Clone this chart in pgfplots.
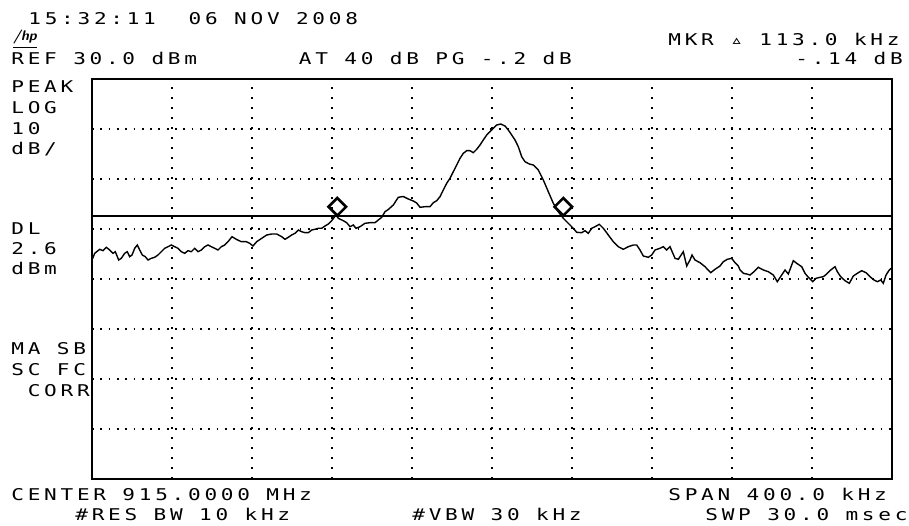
\documentclass[border=0pt]{standalone}
\usepackage{pgfplots}
\pgfplotsset{compat=1.18}
\usepackage{fontspec}
\newfontfamily\hpfont[FakeStretch=1.3,LetterSpace=23]{DejaVu Sans Mono}
\pgfplotstableread{
k d
-200 -6.2
-198.65 -4.86
-196.15 -4.06
-194.5 -4.34
-192.85 -3.66
-191.15 -4.2
-189.5 -4.86
-188.35 -4.54
-186.65 -6.2
-185.35 -5.86
-183.65 -4.86
-182.35 -4.54
-181.15 -5.54
-180 -5.2
-178.65 -3.86
-177.35 -3.2
-176.15 -4.2
-174.85 -5.2
-173.35 -5.54
-172 -6.2
-170.35 -5.86
-168.65 -5.66
-167 -5.2
-165.35 -4.54
-163.65 -3.86
-162 -3.54
-160.35 -3.2
-158.65 -3.54
-157 -3.86
-155.35 -4.54
-153.65 -4.86
-152 -4.34
-150.35 -4.54
-148.65 -3.86
-147 -4.54
-145.35 -4.2
-143.65 -3.54
-142 -3.2
-140.35 -3.54
-138.65 -3.86
-137 -4.2
-135.35 -3.54
-133.65 -3.2
-132 -2.54
-130 -1.54
-127.85 -2.06
-125.35 -2.54
-122.85 -2.54
-121.15 -2.86
-119.5 -3.4
-117.65 -2.54
-115.15 -1.86
-112.65 -1.2
-110.15 -1.0
-107.65 -1.0
-105.15 -1.54
-103.5 -2.06
-101.85 -1.66
-100.15 -1.2
-98.5 -0.86
-96.85 -0.2
-95.15 -0.54
-93.5 -0.74
-91.85 -0.74
-90.15 -0.2
-88.5 -0.06
-86.85 0.14
-85.15 0.14
-83.5 0.6
-81.85 1.0
-80.15 1.66
-78 2.8
-76.85 2.14
-74.35 1.66
-72.65 1.26
-71 0.46
-69.35 0.8
-68 0.14
-66 0.46
-63.5 1.14
-61 1.26
-58.5 1.26
-56.85 1.8
-55.15 2.34
-53.5 3.46
-51.85 3.9
-49.35 4.8
-46.85 6.34
-44.35 6.5
-41.85 6.0
-39.35 5.6
-37.65 5.2
-36 4.34
-33.5 4.46
-31 4.46
-29.35 5.26
-27.65 5.66
-26 6.46
-24.35 7.8
-22.65 9.14
-21 10.14
-19.35 11.46
-17.65 12.8
-16 14.14
-14.35 15.14
-12.65 15.66
-11 15.66
-9.35 15.26
-7.65 15.94
-6 16.8
-4.35 17.8
-2.65 18.8
-1 19.46
0.65 20.14
2.35 20.8
4.35 21.0
6.5 20.6
8.15 19.8
9.85 18.8
11.5 17.8
13.15 16.46
14.85 14.46
16.5 13.46
18.65 13.0
20.65 12.8
23.15 11.8
25.65 9.8
28.15 7.46
30.65 5.14
33.15 3.46
35.65 2.14
38.15 1.14
40.65 0.14
42.35 -0.66
44.85 -0.74
46.5 -0.34
48.15 -0.86
49.85 0.14
51.5 0.46
53.65 0.94
55.65 0.14
58.15 -1.2
60.65 -2.54
63.15 -3.54
65.65 -4.06
68.15 -3.54
70.65 -3.2
72.35 -3.2
74 -4.2
75.65 -5.4
78.15 -5.66
79.85 -5.2
81.5 -4.2
84 -3.86
85.65 -3.54
87.35 -4.2
89 -3.54
91.5 -5.86
93.15 -6.06
95.65 -4.54
97.35 -7.4
99 -6.2
100 -5.2
101.5 -6.2
104 -6.74
106.5 -7.54
109.35 -8.74
111.5 -8.06
114 -7.4
115.65 -6.54
117.65 -6.06
119.85 -5.86
121.5 -6.74
123.15 -7.4
124 -8.2
125.65 -8.86
127.35 -9.0
129 -9.2
131 -8.54
133.15 -7.66
135.65 -8.2
138.15 -8.54
140.65 -9.2
142.65 -10.54
144.85 -9.2
146.5 -8.2
148.15 -9.0
150.65 -6.34
152.35 -6.86
154.85 -7.54
156.5 -8.86
158.15 -9.66
160.35 -10.54
162 -9.86
164 -9.66
165.65 -9.54
167.35 -9.0
169.35 -8.2
171.5 -7.54
172.65 -8.54
174.35 -9.54
176.5 -10.34
178.65 -10.86
180.65 -9.4
183.15 -8.74
184.85 -8.34
187 -8.74
189 -9.54
191 -10.2
192.65 -10.54
194.35 -10.2
195.65 -10.86
197 -9.2
198.65 -8.2
199.5 -7.86
}\trace
\begin{document}
\begin{tikzpicture}
\path[use as bounding box] (0,0) rectangle (454.5pt,262.5pt);
\begin{axis}[
  at={(46pt,23pt)}, anchor=south west,
  scale only axis, width=400pt, height=200pt,
  xmin=-200, xmax=200, ymin=-50, ymax=30,
  xtick={-160,-120,...,160}, ytick={-40,-30,...,20},
  xticklabels={}, yticklabels={},
  major tick length=0pt,
  grid=major,
  major x grid style={black, line width=1pt, dash pattern=on 0.9pt off 4.1pt},
  major y grid style={black, line width=1pt, dash pattern=on 0.9pt off 3.25pt},
  axis line style={line width=1.3pt},
]
\addplot[black, line width=1.1pt] coordinates {(-200,2.6) (200,2.6)};
\addplot[black, line width=0.7pt] table[x=k, y=d] {\trace};
\addplot[only marks, mark=square, mark size=3.1pt,
  mark options={yshift=4.6pt, rotate=45, line width=1.3pt, black, fill=white}]
  coordinates {(-77.35,2.6) (35.65,2.6)};
\end{axis}
\begin{scope}[x=0.5pt, y=-0.5pt, shift={(0,262.5pt)},
  every node/.style={inner sep=0pt, anchor=base west, font=\hpfont\fontsize{8.1}{9}\selectfont}]
\node at (28,24.5) {15:32:11\ \ 06 NOV 2008};
\node[font=\sffamily\itshape\bfseries\fontsize{7}{7}\selectfont] at (13,41) {\underline{/hp}};
\node at (11,64.5) {REF 30.0 dBm};
\node at (298.5,64.5) {AT 40 dB PG -.2 dB};
\node at (668,45.5) {MKR ▵ 113.0 kHz};
\node at (795,64.5) {-.14 dB};
\node at (11,92.5) {PEAK};
\node at (11,113.5) {LOG};
\node at (11,134.5) {10};
\node at (11,155) {dB/};
\node at (11,234.5) {DL};
\node at (11,255) {2.6};
\node at (11,275) {dBm};
\node at (11,355) {MA SB};
\node at (11,375.5) {SC FC};
\node at (11,396) {\ CORR};
\node at (11,500) {CENTER 915.0000 MHz};
\node at (75,520) {\#RES BW 10 kHz};
\node at (412,520) {\#VBW 30 kHz};
\node at (668,500) {SPAN 400.0 kHz};
\node at (705,520) {SWP 30.0 msec};
\end{scope}
\end{tikzpicture}
\end{document}
